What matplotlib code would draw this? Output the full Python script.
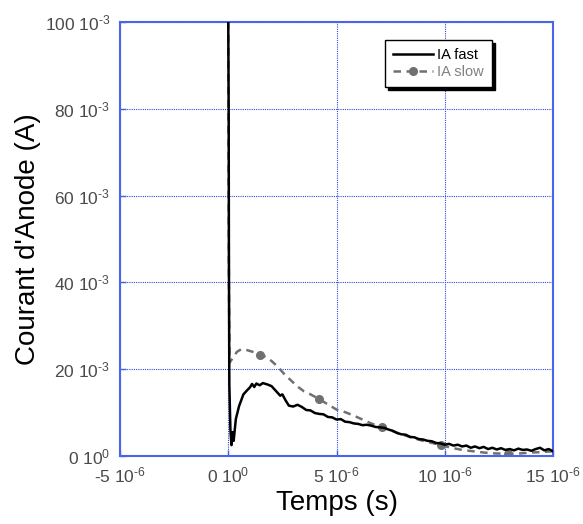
import matplotlib
matplotlib.use("Agg")
import matplotlib.pyplot as plt
import numpy as np

# ---- data (time in microseconds, current in mA) ----
t_fast = [0.00, 0.02, 0.03, 0.05, 0.10, 0.15, 0.20, 0.25, 0.35, 0.5, 0.7, 0.9, 1.0, 1.1, 1.2, 1.3,
          1.45, 1.6, 1.8, 2.0, 2.2, 2.4, 2.5, 2.65, 2.8, 3.0, 3.2, 3.4, 3.6, 3.8, 4.0, 4.2, 4.4,
          4.6, 4.8, 5.0, 5.2, 5.4, 5.6, 5.8, 6.0, 6.2, 6.4, 6.6, 6.8, 7.0, 7.2, 7.4, 7.6, 7.8,
          8.0, 8.2, 8.4, 8.6, 8.8, 9.0, 9.2, 9.4, 9.6, 9.8, 10.0, 10.2, 10.4, 10.6, 10.8, 11.0,
          11.2, 11.4, 11.6, 11.8, 12.0, 12.2, 12.4, 12.6, 12.8, 13.0, 13.2, 13.4, 13.6, 13.8,
          14.0, 14.2, 14.4, 14.6, 14.8, 15.0]
i_fast = [100, 79, 47, 16.5, 6, 2.5, 5.5, 3.5, 8.5, 11.5, 14.2, 15.3, 15.8, 16.6, 15.9, 16.7,
          16.3, 16.8, 16.5, 16.1, 15.0, 13.9, 14.2, 12.8, 11.6, 11.4, 11.8, 11.3, 10.6, 10.5,
          9.9, 9.7, 9.6, 9.0, 8.9, 8.4, 8.5, 7.9, 7.8, 7.5, 7.4, 7.1, 7.2, 7.0, 6.7, 6.6, 6.5,
          6.1, 5.8, 5.3, 5.0, 4.9, 4.4, 4.3, 3.9, 3.8, 3.5, 3.4, 3.0, 2.9, 2.6, 2.8, 2.4, 2.6,
          2.2, 2.4, 1.9, 2.2, 1.8, 2.1, 1.6, 1.9, 1.5, 1.8, 1.4, 1.6, 1.3, 1.7, 1.4, 1.5, 1.2,
          1.6, 1.9, 1.3, 1.6, 1.1]

t_slow = [0.00, 0.03, 0.06, 0.2, 0.4, 0.6, 0.8, 1.0, 1.2, 1.45, 1.7, 2.0, 2.3, 2.6, 2.9, 3.2,
          3.5, 3.8, 4.2, 4.6, 5.0, 5.4, 5.8, 6.2, 6.6, 7.08, 7.5, 8.0, 8.5, 9.0, 9.5, 9.84,
          10.3, 10.8, 11.3, 11.8, 12.3, 12.9, 13.5, 14.0, 14.5, 15.0]
i_slow = [100, 40, 21.5, 22.5, 24.0, 24.6, 24.5, 24.2, 23.9, 23.3, 22.9, 21.9, 20.5, 18.8,
          17.4, 16.0, 14.9, 14.2, 13.1, 11.9, 10.7, 10.1, 9.3, 8.4, 7.5, 6.6, 5.9, 5.0, 4.2,
          3.5, 2.9, 2.5, 1.9, 1.4, 1.1, 0.8, 0.6, 0.5, 0.6, 0.8, 0.9, 1.1]
slow_marker_idx = [9, 18, 25, 31, 37]

x_ticks = [-5e-6, 0, 5e-6, 10e-6, 15e-6]
x_labels = [r"-5 10$^{\text{-}6}$", r"0 10$^{0}$", r"5 10$^{\text{-}6}$", r"10 10$^{\text{-}6}$",
            r"15 10$^{\text{-}6}$"]
y_ticks = [0, 0.02, 0.04, 0.06, 0.08, 0.1]
y_labels = [r"0 10$^{0}$", r"20 10$^{\text{-}3}$", r"40 10$^{\text{-}3}$", r"60 10$^{\text{-}3}$",
            r"80 10$^{\text{-}3}$", r"100 10$^{\text{-}3}$"]

plt.rcParams["font.family"] = ["Liberation Sans", "DejaVu Sans"]
plt.rcParams["mathtext.fontset"] = "custom"
plt.rcParams["mathtext.rm"] = "Liberation Sans"
plt.rcParams["mathtext.it"] = "Liberation Sans:italic"
plt.rcParams["mathtext.bf"] = "Liberation Sans:bold"
plt.rcParams["mathtext.default"] = "regular"

fig = plt.figure(figsize=(5.83, 5.24), dpi=100)
ax = fig.add_axes([120/583, 68/524, 433/583, 434/524])

tf = np.array(t_fast) * 1e-6
yf = np.array(i_fast) * 1e-3
ts = np.array(t_slow) * 1e-6
ys = np.array(i_slow) * 1e-3

ax.plot(tf, yf, color="black", lw=1.8, label="IA fast", zorder=3)
ax.plot(ts, ys, color="#707070", lw=1.8, ls=(0, (3, 2.2)), marker="o", ms=5.5,
        markevery=slow_marker_idx, label="IA slow", zorder=2)

ax.set_xlim(-5e-6, 15e-6)
ax.set_ylim(0, 0.1)
ax.set_xticks(x_ticks)
ax.set_xticklabels(x_labels)
ax.set_yticks(y_ticks)
ax.set_yticklabels(y_labels)
ax.grid(True, color="#3048e0", ls=(0, (1, 1)), lw=0.8)
ax.set_axisbelow(True)
ax.tick_params(direction="in", length=4, width=1, colors="#4060e8", labelcolor="#4a4a4a",
               labelsize=12.5)
ax.tick_params(axis="x", pad=7)
ax.tick_params(axis="y", pad=7)
for s in ax.spines.values():
    s.set_color("#4a66e6")
    s.set_linewidth(1.5)

ax.set_xlabel("Temps (s)", fontsize=20, labelpad=3)
ax.set_ylabel("Courant d'Anode (A)", fontsize=20, labelpad=3)

leg = ax.legend(loc="upper right", bbox_to_anchor=(0.876, 0.975), frameon=True,
                fancybox=False, shadow={"color": "black", "alpha": 1}, edgecolor="black",
                framealpha=1, fontsize=10.5, handlelength=2.7, borderpad=0.55,
                labelspacing=0.2, handletextpad=0.3)
leg.get_frame().set_linewidth(1.0)
leg.get_texts()[1].set_color("#808080")

fig.savefig("out.png", dpi=100)
